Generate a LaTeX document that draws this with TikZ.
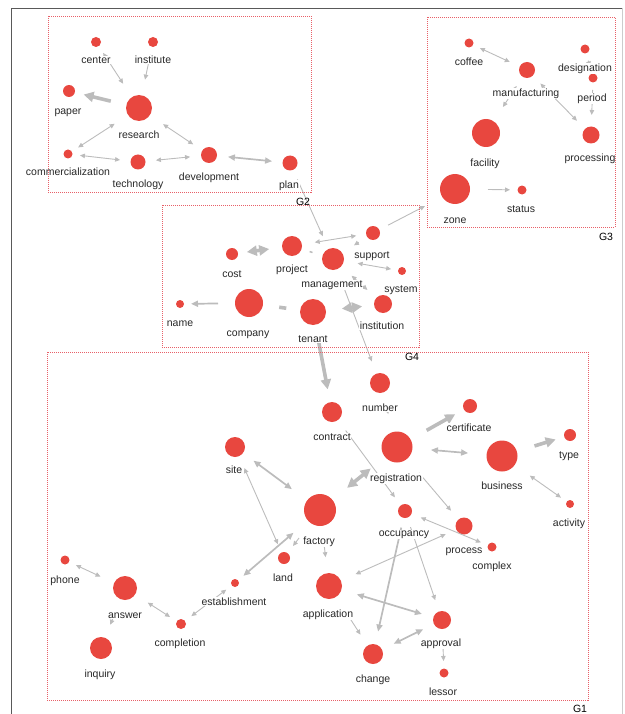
\documentclass[tikz,border=0pt]{standalone}
\usepackage{fontspec}
\setmainfont{Liberation Sans}
\usetikzlibrary{arrows.meta}
\definecolor{nred}{RGB}{232,71,63}
\definecolor{egray}{RGB}{188,188,188}
\definecolor{bred}{RGB}{232,96,104}
\definecolor{txt}{RGB}{40,40,40}
\tikzset{
  bub/.style={circle,fill=nred,draw=none,inner sep=0pt,minimum size=2*#1pt,outer sep=#1pt+3pt},
  lbl/.style={font=\fontsize{10.5}{12}\selectfont,text=txt,fill=white,inner sep=0.6pt,anchor=mid,yshift=-2pt},
  glbl/.style={font=\fontsize{10.5}{12}\selectfont,text=black,inner sep=0pt,anchor=mid,yshift=-1.5pt},
  grp/.style={draw=bred,line width=0.9pt,dash pattern=on 1pt off 1pt},
  a1/.style={draw=egray,line width=0.9pt,-{Triangle[length=5pt,width=4.5pt]}},
  b1/.style={draw=egray,line width=0.9pt,{Triangle[length=5pt,width=4.5pt]}-{Triangle[length=5pt,width=4.5pt]}},
  a2/.style={draw=egray,line width=1.7pt,-{Triangle[length=7pt,width=6pt]}},
  b2/.style={draw=egray,line width=1.7pt,{Triangle[length=7pt,width=6pt]}-{Triangle[length=7pt,width=6pt]}},
  a3/.style={draw=egray,line width=3.6pt,-{Triangle[length=10pt,width=10pt]}},
  b3/.style={draw=egray,line width=3.6pt,{Triangle[length=10pt,width=10pt]}-{Triangle[length=10pt,width=10pt]}},
  p3/.style={draw=egray,line width=3.6pt},
  p2/.style={draw=egray,line width=1.5pt},
}
\begin{document}
\begin{tikzpicture}[x=1pt,y=-1pt]
\useasboundingbox (0,0) rectangle (624,714);
% outer frame
\draw[black!65,line width=0.9pt] (11,714) -- (11,8) -- (622,8);
\draw[black!20,line width=0.8pt] (622,8) -- (622,714);

% ---------- nodes G2
\node[bub=5] (cen) at (96,42) {};
\node[bub=5] (institute) at (153,42) {};
\node[bub=6] (paper) at (69,91) {};
\node[bub=13] (research) at (139,108) {};
\node[bub=4.5] (commercialization) at (68,154) {};
\node[bub=7.5] (technology) at (138,162) {};
\node[bub=8] (development) at (209,155) {};
\node[bub=7.5] (plan) at (290,163) {};
% ---------- nodes G3
\node[bub=4.5] (coffee) at (469,43) {};
\node[bub=8] (manufacturing) at (527,70) {};
\node[bub=4.5] (designation) at (585,49) {};
\node[bub=4.5] (period) at (593,78) {};
\node[bub=14] (facility) at (486,133) {};
\node[bub=8.5] (processing) at (591,135) {};
\node[bub=15] (zone) at (455,189) {};
\node[bub=4.5] (status) at (522,190) {};
\coordinate (g3c) at (425,206);
% ---------- nodes G4
\node[bub=6] (cost) at (232,254) {};
\node[bub=10] (project) at (292,246) {};
\node[bub=11] (management) at (333,259) {};
\node[bub=7] (support) at (373,233) {};
\node[bub=4] (system) at (402,271) {};
\node[bub=4] (name) at (180,304) {};
\node[bub=14] (company) at (249,303) {};
\node[bub=13] (tenant) at (313,312) {};
\node[bub=9] (institution) at (383,304) {};
% ---------- nodes G1
\node[bub=10] (contract) at (332,412) {};
\node[bub=10] (number) at (380,383) {};
\node[bub=7] (certificate) at (470,406) {};
\node[bub=15.5] (registration) at (397,447) {};
\node[bub=15.5] (business) at (502,456) {};
\node[bub=6] (type) at (570,435) {};
\node[bub=4] (activity) at (570,504) {};
\node[bub=16] (factory) at (320,510) {};
\node[bub=7] (occupancy) at (405,511) {};
\node[bub=8.5] (process) at (464,526) {};
\node[bub=4.5] (complex) at (492,547) {};
\node[bub=10] (site) at (235,447) {};
\node[bub=6] (land) at (284,558) {};
\node[bub=13] (application) at (329,586) {};
\node[bub=4] (establishment) at (235,583) {};
\node[bub=4.5] (phone) at (65,560) {};
\node[bub=12] (answer) at (125,588) {};
\node[bub=5] (completion) at (181,624) {};
\node[bub=11] (inquiry) at (101,648) {};
\node[bub=9] (approval) at (442,620) {};
\node[bub=10] (change) at (373,654) {};
\node[bub=4.5] (lessor) at (444,673) {};

% ---------- edges G2
\draw[b1] (cen) -- (research);
\draw[a1] (institute) -- (research);
\draw[a3] (research) -- (paper);
\draw[b1] (research) -- (commercialization);
\draw[b1] (commercialization) -- (technology);
\draw[b1] (technology) -- (development);
\draw[b1] (research) -- (development);
\draw[b2] (development) -- (plan);
\draw[a1] (plan) -- (management);
% ---------- edges G3
\draw[b1] (coffee) -- (manufacturing);
\draw[a1] (designation) -- (period);
\draw[a1] (period) -- (processing);
\draw[b1] (manufacturing) -- (facility);
\draw[b1] (manufacturing) -- (processing);
\draw[a1] (zone) -- (status);
% ---------- edges G4
\draw[a1] (support) -- (g3c);
\draw[b3] (cost) -- (project);
\draw[p2,shorten <=18.5pt,shorten >=21.5pt] (project.center) -- (management.center);
\draw[b1] (project) -- (support);
\draw[a1] (support) -- (management);
\draw[b1] (management) -- (system);
\draw[b1] (management) -- (institution);
\draw[a1] (management) -- (number);
\draw[a2] (company) -- (name);
\draw[p3,shorten <=30.5pt,shorten >=27pt] (company.center) -- (tenant.center);
\draw[b3] (tenant) -- (institution);
\draw[a3] (tenant) -- (contract);
% ---------- edges G1
\draw[a1] (number) -- (registration);
\draw[a3] (registration) -- (certificate);
\draw[b2] (registration) -- (business);
\draw[a3] (business) -- (type);
\draw[b1] (business) -- (activity);
\draw[b3] (registration) -- (factory);
\draw[a1] (contract) -- (occupancy);
\draw[a1] (registration) -- (process);
\draw[b1] (complex) -- (occupancy);
\draw[b1] (process) -- (application);
\draw[a2] (occupancy) -- (change);
\draw[a1] (occupancy) -- (approval);
\draw[b2] (application) -- (approval);
\draw[a1] (application) -- (change);
\draw[b2] (approval) -- (change);
\draw[a1] (approval) -- (lessor);
\draw[a1] (factory) -- (application);
\draw[a1] (factory) -- (land);
\draw[b2] (site) -- (factory);
\draw[b1] (site) -- (land);
\draw[b2] (factory) -- (establishment);
\draw[b1] (establishment) -- (completion);
\draw[b1] (answer) -- (completion);
\draw[b1] (phone) -- (answer);
\draw[a1] (answer) -- (inquiry);

% ---------- labels
\node[lbl] (cen-t) at (96,59) {center};
\node[lbl] (institute-t) at (153,59) {institute};
\node[lbl] (paper-t) at (68,110) {paper};
\node[lbl] (research-t) at (139,134) {research};
\node[lbl] (commercialization-t) at (68,171) {commercialization};
\node[lbl] (technology-t) at (138,183) {technology};
\node[lbl] (development-t) at (209,176) {development};
\node[lbl] (plan-t) at (289,184) {plan};
\node[lbl] (coffee-t) at (469,61) {coffee};
\node[lbl] (manufacturing-t) at (526,92) {manufacturing};
\node[lbl] (designation-t) at (585,67) {designation};
\node[lbl] (period-t) at (592,97) {period};
\node[lbl] (facility-t) at (485,162) {facility};
\node[lbl] (processing-t) at (590,157) {processing};
\node[lbl] (zone-t) at (455,219) {zone};
\node[lbl] (status-t) at (521,208) {status};
\node[lbl] (cost-t) at (232,273) {cost};
\node[lbl] (project-t) at (292,268) {project};
\node[lbl] (management-t) at (332,283) {management};
\node[lbl] (support-t) at (372,254) {support};
\node[lbl] (system-t) at (401,288) {system};
\node[lbl] (name-t) at (180,322) {name};
\node[lbl] (company-t) at (248,332) {company};
\node[lbl] (tenant-t) at (313,338) {tenant};
\node[lbl] (institution-t) at (382,325) {institution};
\node[lbl] (contract-t) at (332,436) {contract};
\node[lbl] (number-t) at (380,407) {number};
\node[lbl] (certificate-t) at (469,427) {certificate};
\node[lbl] (registration-t) at (396,477) {registration};
\node[lbl] (business-t) at (502,485) {business};
\node[lbl] (type-t) at (569,454) {type};
\node[lbl] (activity-t) at (569,522) {activity};
\node[lbl] (factory-t) at (319,540) {factory};
\node[lbl] (occupancy-t) at (404,532) {occupancy};
\node[lbl] (process-t) at (464,549) {process};
\node[lbl] (complex-t) at (492,565) {complex};
\node[lbl] (site-t) at (234,469) {site};
\node[lbl] (land-t) at (283,577) {land};
\node[lbl] (application-t) at (328,613) {application};
\node[lbl] (establishment-t) at (234,601) {establishment};
\node[lbl] (phone-t) at (65,579) {phone};
\node[lbl] (answer-t) at (125,614) {answer};
\node[lbl] (completion-t) at (180,642) {completion};
\node[lbl] (inquiry-t) at (100,673) {inquiry};
\node[lbl] (approval-t) at (441,642) {approval};
\node[lbl] (change-t) at (373,678) {change};
\node[lbl] (lessor-t) at (443,691) {lessor};

% ---------- group boxes
\draw[grp] (48,16) rectangle (311,192);
\draw[grp] (427,17) rectangle (615,227);
\draw[grp] (162,205) rectangle (419,347);
\draw[grp] (47,352) rectangle (588,700);
\node[glbl] (g2lab) at (303,201) {G2};
\node[glbl] (g3lab) at (606,236) {G3};
\node[glbl] (g4lab) at (412,356) {G4};
\node[glbl] (g1lab) at (580,708) {G1};
\end{tikzpicture}
\end{document}
